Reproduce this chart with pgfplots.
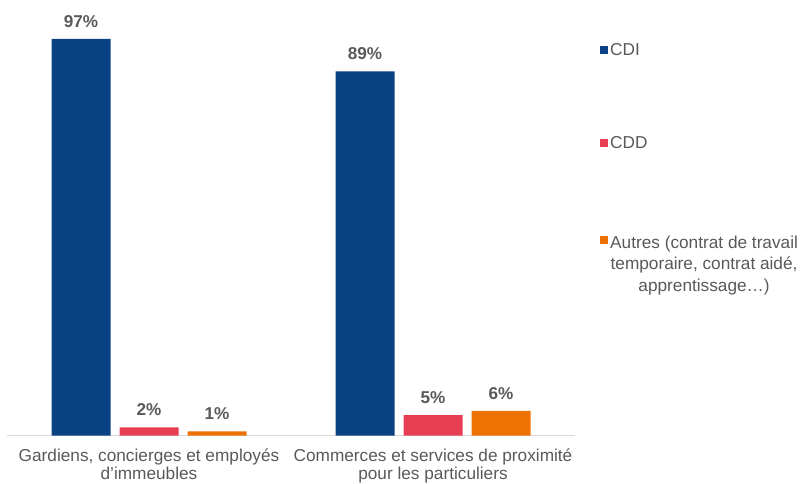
\documentclass[border=0pt]{standalone}
\usepackage{pgfplots}
\pgfplotsset{compat=1.18}
\usepackage{fontspec}
\setmainfont{Liberation Sans}
\definecolor{cdi}{RGB}{10,66,131}
\definecolor{cdd}{RGB}{232,62,84}
\definecolor{aut}{RGB}{238,114,3}
\definecolor{txt}{RGB}{89,89,89}
\definecolor{axl}{RGB}{217,217,217}
\begin{document}
\begin{tikzpicture}
\useasboundingbox (0,0) rectangle (804bp,484bp);
\begin{axis}[
  at={(7bp,48.5bp)}, anchor=south west,
  scale only axis, width=568bp, height=409bp,
  xmin=-0.5, xmax=1.5, ymin=0, ymax=100,
  ybar=9bp, bar width=59bp,
  axis y line=none,
  axis x line*=bottom,
  x axis line style={draw=axl, line width=1.6bp, -},
  xtick={0,1}, major tick length=0pt,
  /pgf/number format/assume math mode=true,
  xticklabels={{Gardiens, concierges et employés\\d’immeubles},{Commerces et services de proximité\\pour les particuliers}},
  xticklabel style={align=center, font=\fontsize{17.3}{18}\selectfont, text=txt, yshift=-10bp},
  clip=false,
  nodes near coords={\pgfmathprintnumber{\pgfplotspointmeta}\%},
  nodes near coords style={font=\bfseries\fontsize{17.2}{20}\selectfont, text=txt, anchor=south, yshift=8bp},
  legend image code/.code={\fill[#1] (0bp,-4bp) rectangle (8bp,4bp);},
  legend style={draw=none, at={(1,1)}, anchor=north west, xshift=25bp, yshift=-14.5bp,
    font=\fontsize{17.3}{21.5}\selectfont, text=txt, row sep=76bp, inner sep=0pt,
    legend cell align=left, nodes={inner sep=2bp}},
]
\addplot[fill=cdi, draw=none] coordinates {(0,97) (1,89)};
\addplot[fill=cdd, draw=none] coordinates {(0,2) (1,5)};
\addplot[fill=aut, draw=none] coordinates {(0,1) (1,6)};
\legend{CDI, CDD, {\begin{tabular}[t]{@{}c@{}}\rule{0pt}{18bp}Autres (contrat de travail\\temporaire, contrat aidé,\\apprentissage…)\end{tabular}}}
\end{axis}
\end{tikzpicture}
\end{document}
